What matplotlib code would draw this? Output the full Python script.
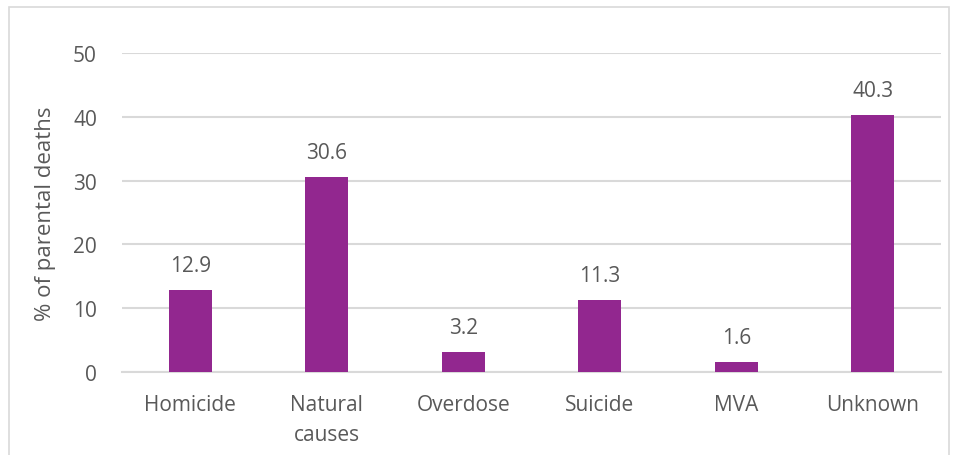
import matplotlib.pyplot as plt
from matplotlib.patches import Rectangle

categories = ['Homicide', 'Natural\ncauses', 'Overdose', 'Suicide', 'MVA', 'Unknown']
values = [12.9, 30.6, 3.2, 11.3, 1.6, 40.3]
yticks = [0, 10, 20, 30, 40, 50]

plt.rcParams['font.family'] = ['Open Sans', 'DejaVu Sans']
text_color = '#595959'
bar_color = '#92278F'

fig = plt.figure(figsize=(9.58, 4.56), dpi=100)
ax = fig.add_axes([0.1273, 0.182, 0.855, 0.6996])

x = range(len(categories))
bars = ax.bar(x, values, width=0.315, color=bar_color, zorder=3)

# value labels above bars
for xi, v in zip(x, values):
    ax.annotate(f'{v:.1f}', (xi, v), xytext=(0, 10), textcoords='offset points',
                ha='center', va='bottom', fontsize=15, color=text_color)

ax.set_xlim(-0.5, len(categories) - 0.5)
ax.set_ylim(0, 50)
ax.set_yticks(yticks)
ax.set_xticks(list(x))
ax.set_xticklabels(categories, fontsize=15, color=text_color, linespacing=1.55)
ax.tick_params(axis='y', labelsize=15, labelcolor=text_color, length=0, pad=18)
ax.tick_params(axis='x', length=0, pad=16)
ax.yaxis.grid(True, color='#d9d9d9', linewidth=1.5, zorder=0)

for s in ['top', 'right', 'left']:
    ax.spines[s].set_visible(False)
ax.spines['bottom'].set_color('#d9d9d9')
ax.spines['bottom'].set_linewidth(1.5)

ax.set_ylabel('% of parental deaths', fontsize=16, color=text_color, labelpad=12)

# light border round the chart area
fig.patches.append(Rectangle((9 / 958, -0.05), 940 / 958, 1.05 - 8 / 456,
                             transform=fig.transFigure, fill=False,
                             edgecolor='#d9d9d9', linewidth=1.2))

fig.savefig('out.png', dpi=100)
